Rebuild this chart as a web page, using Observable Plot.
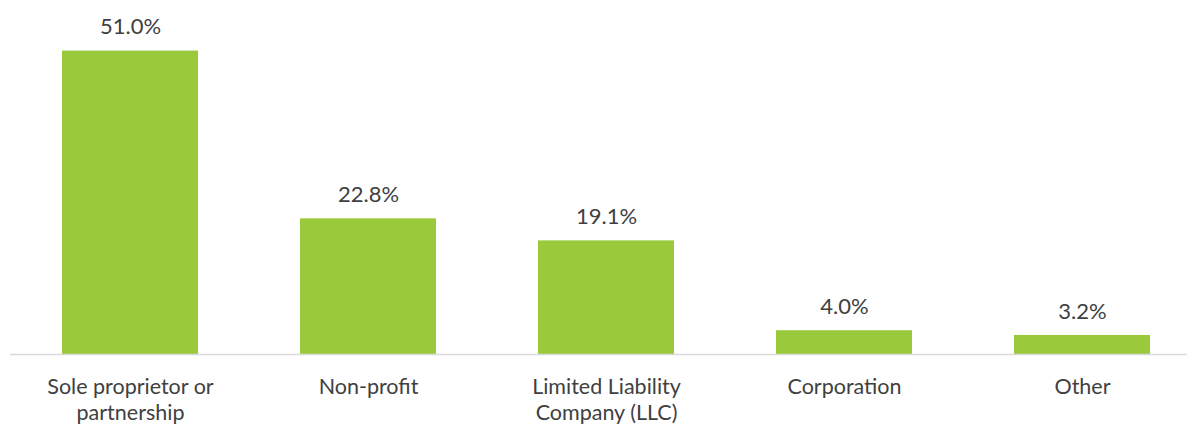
<!DOCTYPE html>
<html>
<head>
<meta charset="utf-8">
<script src="https://cdn.jsdelivr.net/npm/d3@7"></script>
<script src="https://cdn.jsdelivr.net/npm/@observablehq/plot@0.6"></script>
<style>
  html, body { margin: 0; padding: 0; background: #fff; overflow: hidden; }
  svg { display: block; }
</style>
</head>
<body>
<div id="chart"></div>
<script>
const categories = ["Sole proprietor or partnership", "Non-profit", "Limited Liability Company (LLC)", "Corporation", "Other"];
const tickLabels = ["Sole proprietor or\npartnership", "Non-profit", "Limited Liability\nCompany (LLC)", "Corporation", "Other"];
const values = [51.0, 22.8, 19.1, 4.0, 3.2];
const valueLabels = ["51.0%", "22.8%", "19.1%", "4.0%", "3.2%"];

const data = categories.map((c, i) => ({category: c, value: values[i], label: valueLabels[i]}));
const tickMap = new Map(categories.map((c, i) => [c, tickLabels[i]]));

const chart = Plot.plot({
  width: 1187,
  height: 427,
  marginTop: 0,
  marginLeft: 10,
  marginRight: 0,
  marginBottom: 73,
  style: {fontFamily: "Lato, sans-serif", color: "#404040", background: "#fff", overflow: "hidden"},
  x: {domain: categories, range: [10.7, 1201], paddingInner: 0.43, paddingOuter: 0.215, align: 0.5},
  y: {domain: [0, 59.5], axis: null},
  marks: [
    Plot.barY(data, {x: "category", y: "value", fill: "#9ACA3C"}),
    Plot.ruleY([0], {stroke: "#D9D9D9", strokeWidth: 1.5}),
    Plot.text(data, {x: "category", y: "value", text: "label", dy: -24, fontSize: 22, fill: "#404040"}),
    Plot.axisX({tickSize: 0, tickPadding: 20.5, fontSize: 21.5, lineHeight: 1.23, label: null,
      tickFormat: d => tickMap.get(d), fill: "#404040"})
  ]
});
document.getElementById("chart").append(chart);
</script>
</body>
</html>
